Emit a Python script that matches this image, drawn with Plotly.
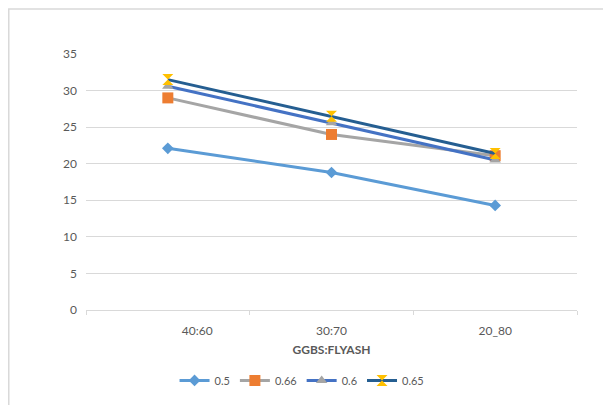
import plotly.graph_objects as go

categories = ["40:60", "30:70", "20_80"]
series_names = ["0.5", "0.66", "0.6", "0.65"]
s_05 = [22.1, 18.8, 14.3]
s_066 = [29.0, 24.0, 21.1]
s_06 = [30.6, 25.6, 20.5]
s_065 = [31.5, 26.5, 21.4]
y_ticks = [0, 5, 10, 15, 20, 25, 30, 35]

series = [s_05, s_066, s_06, s_065]
line_colors = ["#5B9BD5", "#A5A5A5", "#4472C4", "#255E91"]
marker_colors = ["#5B9BD5", "#ED7D31", "#A5A5A5", "#FFC000"]
symbols = ["diamond", "square", "triangle-up", "hourglass"]
sizes = [9, 11, 10, 11]

x = list(range(len(categories)))

fig = go.Figure()
for name, vals, lc, mc, sym, sz in zip(series_names, series, line_colors, marker_colors, symbols, sizes):
    fig.add_trace(go.Scatter(
        x=x, y=vals, name=name, mode="lines+markers",
        line=dict(color=lc, width=3),
        marker=dict(color=mc, symbol=sym, size=sz, line=dict(width=0)),
    ))

grey = "#595959"
fig.update_layout(
    width=603, height=397,
    paper_bgcolor="white", plot_bgcolor="white",
    margin=dict(l=78, r=34, t=46, b=94),
    font=dict(family="Lato, Open Sans, sans-serif", size=12, color=grey),
    showlegend=True,
    legend=dict(orientation="h", x=0.44, xanchor="center", y=-0.27, yanchor="middle",
                font=dict(size=11, color=grey), itemwidth=30, tracegroupgap=0),
    xaxis=dict(
        range=[-0.5, 2.5], tickmode="array", tickvals=[0.18, 1, 2], ticktext=categories,
        ticks="", showgrid=False, zeroline=False,
        showline=True, linecolor="#D9D9D9", linewidth=1,
        ticklabelstandoff=10,
        minor=dict(tickmode="array", tickvals=[-0.5, 0.5, 1.5, 2.5], ticks="outside",
                   ticklen=4, tickcolor="#D9D9D9", showgrid=False),
        title=dict(text="<b>GGBS:FLYASH</b>", font=dict(size=12, color=grey), standoff=8),
        tickfont=dict(size=12, color=grey),
    ),
    yaxis=dict(
        range=[0, 35], tickmode="array", tickvals=y_ticks,
        showgrid=True, gridcolor="#D9D9D9", gridwidth=1, zeroline=False,
        showline=False, ticks="", ticklabelstandoff=8,
        tickfont=dict(size=12, color=grey),
    ),
    shapes=[dict(type="rect", xref="paper", yref="paper",
                 x0=-0.1573, x1=1.3, y0=-0.6, y1=1.176,
                 line=dict(color="#D9D9D9", width=1.5), fillcolor="rgba(0,0,0,0)", layer="below")],
)

fig.write_html("out.html")
